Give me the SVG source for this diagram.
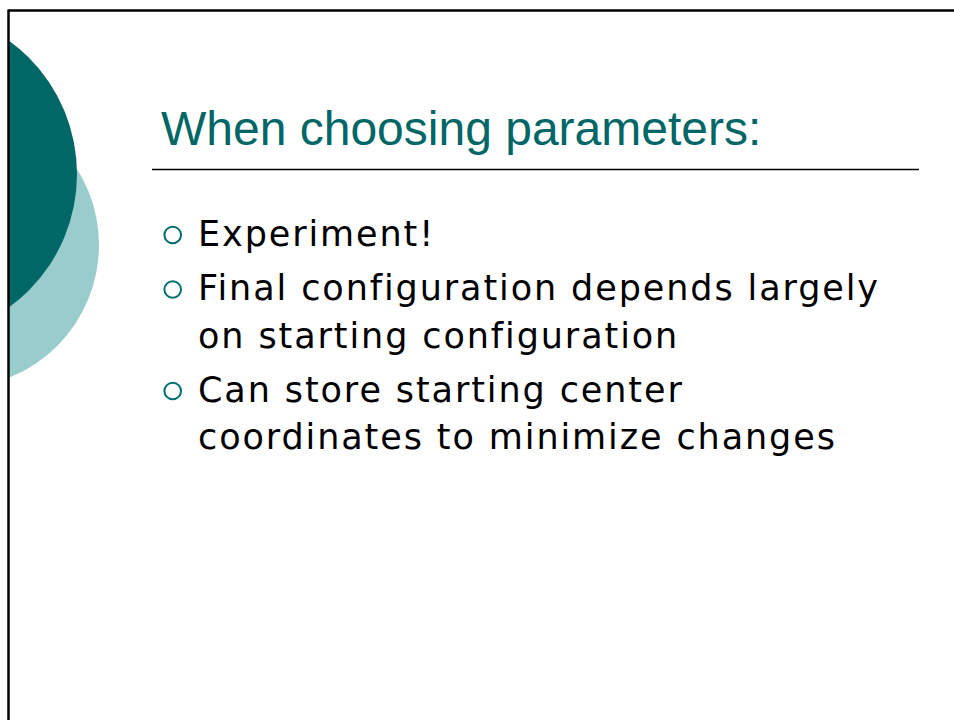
<svg xmlns="http://www.w3.org/2000/svg" width="954" height="720" viewBox="0 0 954 720">
  <style>
    .title { font-family: "Liberation Sans", Arial, sans-serif; font-size: 48px; fill: #006666; }
    .body { font-family: "DejaVu Sans", "Liberation Sans", sans-serif; font-size: 35px; letter-spacing: 1.9px; fill: #000000; }
    .bullet { fill: none; stroke: #006E6E; stroke-width: 2; }
    .frame { stroke: #000000; stroke-width: 2.5; fill: none; }
  </style>
  <defs>
    <clipPath id="slideArea">
      <rect x="9" y="11" width="945" height="709"/>
    </clipPath>
  </defs>

  <rect width="954" height="720" fill="#ffffff"/>

  <!-- decorative discs on the left edge -->
  <g id="discs" clip-path="url(#slideArea)">
    <circle cx="-43.7" cy="245" r="142.7" fill="#99CCCC"/>
    <circle cx="-87.6" cy="174" r="164.6" fill="#006666"/>
  </g>

  <!-- slide frame -->
  <g id="frame">
    <line class="frame" x1="8.5" y1="10.5" x2="954" y2="10.5"/>
    <line class="frame" x1="8.5" y1="9.5" x2="8.5" y2="720"/>
  </g>

  <!-- title -->
  <g id="title">
    <text class="title" x="161" y="145">When choosing parameters:</text>
    <line x1="152" y1="169.5" x2="919" y2="169.5" stroke="#000000" stroke-width="1.3"/>
  </g>

  <!-- bullet list -->
  <g id="item1">
    <circle class="bullet" cx="172.7" cy="235" r="8.3"/>
    <text class="body" x="198" y="246">Experiment!</text>
  </g>
  <g id="item2">
    <circle class="bullet" cx="172.7" cy="289.5" r="8.3"/>
    <text class="body" x="198" y="300">Final configuration depends largely</text>
    <text class="body" x="198" y="347.7">on starting configuration</text>
  </g>
  <g id="item3">
    <circle class="bullet" cx="172.7" cy="391" r="8.3"/>
    <text class="body" x="198" y="401.7">Can store starting center</text>
    <text class="body" x="198" y="449.3">coordinates to minimize changes</text>
  </g>
</svg>
